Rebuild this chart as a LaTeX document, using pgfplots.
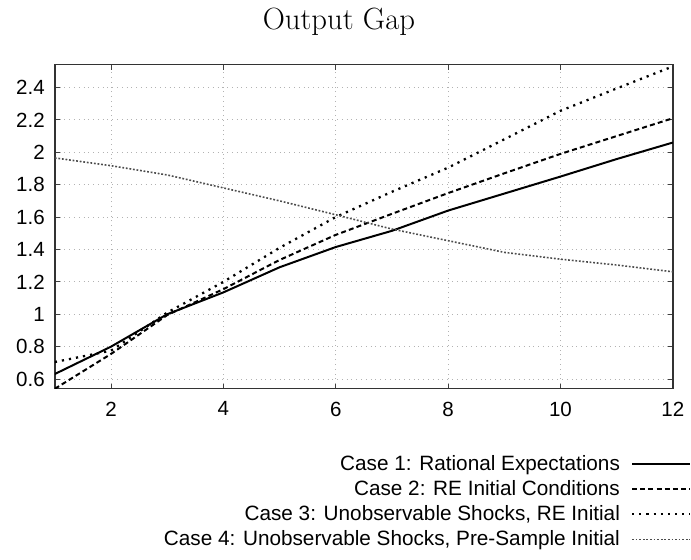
\documentclass[border=0pt]{standalone}
\usepackage{fontspec}
\usepackage{pgfplots}
\pgfplotsset{compat=1.18}
\newfontfamily\arial{Liberation Sans}
\begin{document}
\begin{tikzpicture}
\begin{axis}[
  at={(0pt,0pt)}, anchor=south west,
  scale only axis,
  width=310pt, height=162.5pt,
  xmin=1, xmax=12, ymin=0.54, ymax=2.54,
  xtick={2,4,6,8,10,12},
  ytick={0.6,0.8,1,1.2,1.4,1.6,1.8,2,2.2,2.4},
  yticklabels={0.6,0.8,1,1.2,1.4,1.6,1.8,2,2.2,2.4},
  xticklabels={2,4,6,8,10,12},
  tick label style={font=\arial\fontsize{10.3}{12}\selectfont},
  yticklabel style={xshift=-1.5pt},
  /pgf/number format/assume math mode=true,
  tick align=inside,
  major tick length=2.5pt,
  major tick style={black!75, line width=0.5pt},
  axis line style={black!80, line width=0.7pt},
  grid=major,
  major grid style={black!30, dotted, line width=0.4pt},
  xticklabel style={yshift=-3pt},
  legend style={draw=none, fill=none, font=\arial\fontsize{10.4}{12}\selectfont,
    at={(1.030,-0.192)}, anchor=north east, row sep=-0.5pt, inner sep=0pt},
  legend cell align=right,
  legend plot pos=right,
  legend image code/.code={\path (0pt,0pt); \draw[#1] (3.5pt,0cm) -- (32.5pt,0cm);},
]
\addplot[black, line width=1pt] coordinates {
(1,0.631) (2,0.80) (3,1.0) (4,1.135) (5,1.29) (6,1.415) (7,1.515) (8,1.64) (9,1.745) (10,1.85) (11,1.958) (12,2.06)};
\addlegendentry{Case 1: Rational Expectations}
\addplot[black, line width=1pt, dash pattern=on 2.5pt off 1.6pt] coordinates {
(1,0.54) (2,0.755) (3,0.995) (4,1.155) (5,1.335) (6,1.49) (7,1.62) (8,1.748) (9,1.87) (10,1.99) (11,2.10) (12,2.21)};
\addlegendentry{Case 2: RE Initial Conditions}
\addplot[black, line width=1.15pt, dash pattern=on 1.1pt off 2.5pt] coordinates {
(1,0.705) (2,0.775) (3,1.01) (4,1.2) (5,1.41) (6,1.60) (7,1.756) (8,1.905) (9,2.08) (10,2.256) (11,2.394) (12,2.53)};
\addlegendentry{Case 3: Unobservable Shocks, RE Initial}
\addplot[black!70, line width=0.8pt, dash pattern=on 0.9pt off 0.9pt] coordinates {
(1,1.965) (2,1.917) (3,1.86) (4,1.78) (5,1.70) (6,1.614) (7,1.526) (8,1.454) (9,1.382) (10,1.34) (11,1.304) (12,1.262)};
\addlegendentry{Case 4: Unobservable Shocks, Pre-Sample Initial}
\end{axis}
\node[font=\fontsize{15.4}{18}\selectfont] at (142.5pt,184pt) {Output Gap};
\path[use as bounding box] (-27.5pt,-85.5pt) rectangle (318pt,195pt);
\end{tikzpicture}
\end{document}
